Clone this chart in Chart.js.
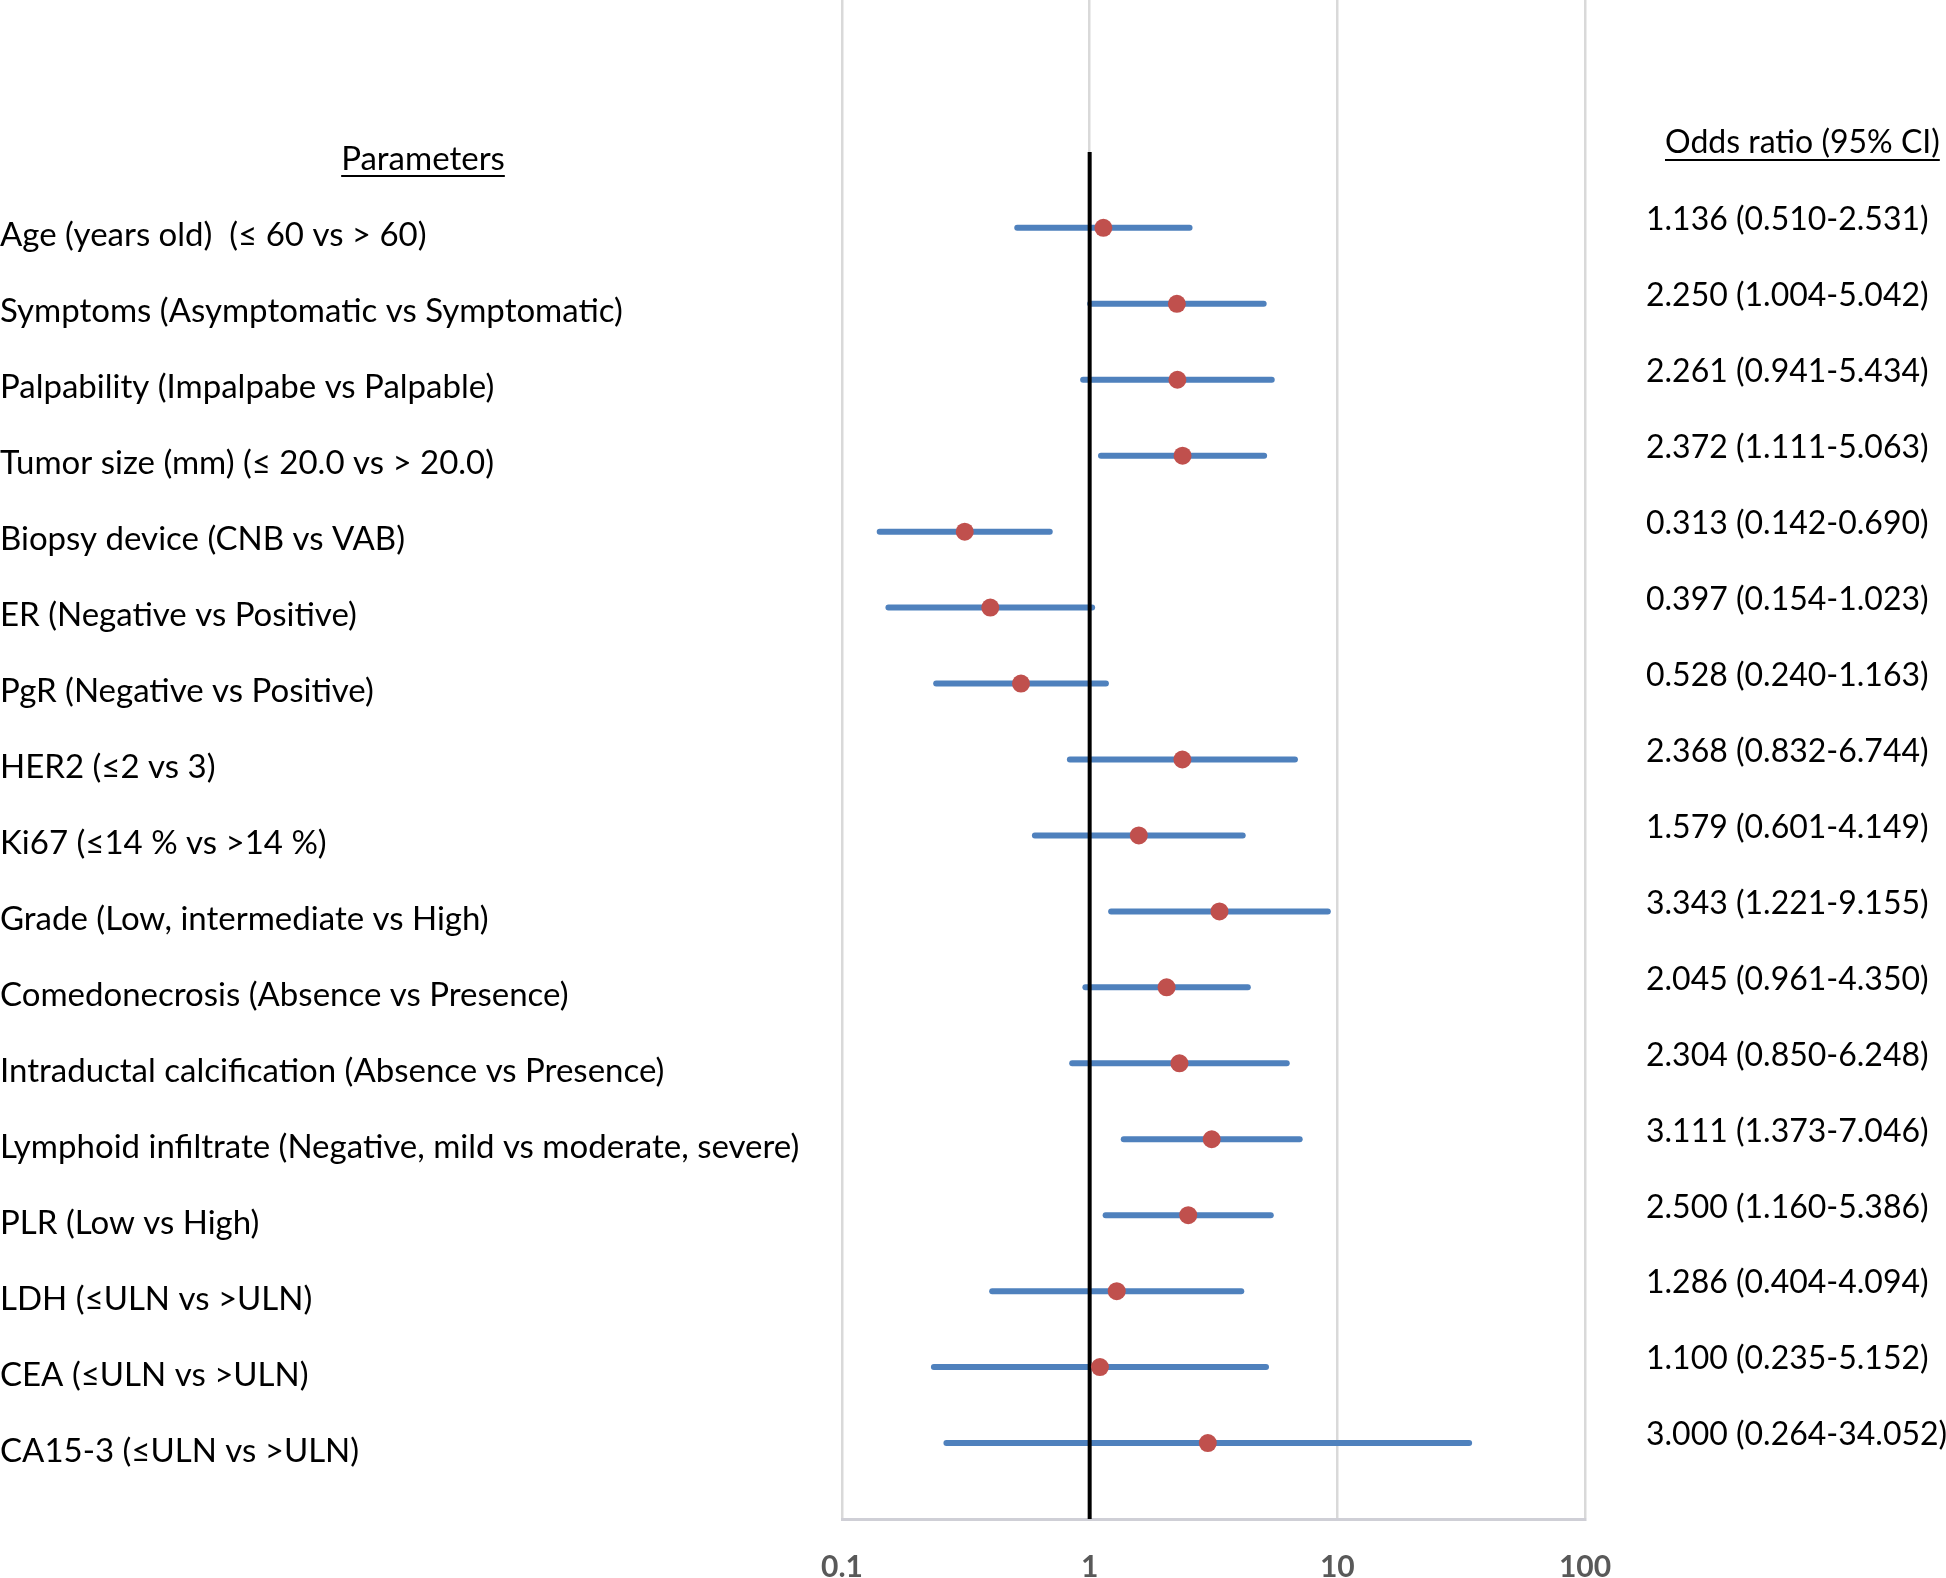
<!DOCTYPE html>
<html>
<head>
<meta charset="utf-8">
<script src="https://cdn.jsdelivr.net/npm/chart.js@4.4.1/dist/chart.umd.min.js"></script>
<style>
html,body{margin:0;padding:0;background:#fff}
#wrap{width:1946px;height:1578px}
</style>
</head>
<body>
<div id="wrap"><canvas id="forest" width="1946" height="1578"></canvas></div>
<script>

// parameters, top to bottom
const params = [
"Age (years old)  (\u2264 60 vs > 60)",
"Symptoms (Asymptomatic vs Symptomatic)",
"Palpability (Impalpabe vs Palpable)",
"Tumor size (mm) (\u2264 20.0 vs > 20.0)",
"Biopsy device (CNB vs VAB)",
"ER (Negative vs Positive)",
"PgR (Negative vs Positive)",
"HER2 (\u22642 vs 3)",
"Ki67 (\u226414 % vs >14 %)",
"Grade (Low, intermediate vs High)",
"Comedonecrosis (Absence vs Presence)",
"Intraductal calcification (Absence vs Presence)",
"Lymphoid infiltrate (Negative, mild vs moderate, severe)",
"PLR (Low vs High)",
"LDH (\u2264ULN vs >ULN)",
"CEA (\u2264ULN vs >ULN)",
"CA15-3 (\u2264ULN vs >ULN)"
]

const oddsRatio = [1.136,2.250,2.261,2.372,0.313,0.397,0.528,2.368,1.579,3.343,2.045,2.304,3.111,2.500,1.286,1.100,3.000]
const ciLow = [0.510,1.004,0.941,1.111,0.142,0.154,0.240,0.832,0.601,1.221,0.961,0.850,1.373,1.160,0.404,0.235,0.264]
const ciHigh = [2.531,5.042,5.434,5.063,0.690,1.023,1.163,6.744,4.149,9.155,4.350,6.248,7.046,5.386,4.094,5.152,34.052]

const xTicks = [0.1,1,10,100]

// row position on the y axis (top row = 17)
const rowY = params.map((p,i) => params.length - i)

const fmt = v => v.toFixed(3)

const FONT = "Lato"

/* text columns drawn next to the plot */
const sideText = {
id:"sideText",
afterDraw(chart){
const ctx = chart.ctx
const ys = chart.scales.y
ctx.save()
ctx.fillStyle = "#000"
ctx.textBaseline = "middle"
ctx.textAlign = "left"

ctx.font = "33px " + FONT
params.forEach((p,i)=>{
ctx.fillText(p, 0, ys.getPixelForValue(rowY[i]) + 8)
})

ctx.font = "32px " + FONT
oddsRatio.forEach((v,i)=>{
const t = fmt(v) + " (" + fmt(ciLow[i]) + "-" + fmt(ciHigh[i]) + ")"
ctx.fillText(t, 1646, ys.getPixelForValue(rowY[i]) - 8)
})

// headings, underlined
const heading = (txt, x, y, align) => {
ctx.textAlign = align
ctx.fillText(txt, x, y)
const w = ctx.measureText(txt).width
const x0 = align === "center" ? x - w/2 : x
ctx.fillRect(x0, y + 16, w, 2)
}
ctx.font = "33px " + FONT
heading("Parameters", 423, 159, "center")
ctx.font = "32px " + FONT
heading("Odds ratio (95% CI)", 1665, 143, "left")

ctx.restore()
}
}

function build(){

const ciSets = rowY.map((y,i)=>({
data:[{x:ciLow[i],y},{x:ciHigh[i],y}],
showLine:true,
borderColor:"#4f81bd",
borderWidth:6,
borderCapStyle:"round",
pointRadius:0,
order:3
}))

new Chart(document.getElementById("forest"),{
type:"scatter",
data:{
datasets:[
{
data:oddsRatio.map((v,i)=>({x:v,y:rowY[i]})),
pointRadius:9,
pointHoverRadius:9,
backgroundColor:"#c0504d",
borderWidth:0,
order:1
},
{
// reference line at OR = 1
data:[{x:1,y:0},{x:1,y:18}],
showLine:true,
borderColor:"#000",
borderWidth:4,
pointRadius:0,
order:2
},
...ciSets
]
},
options:{
responsive:false,
animation:false,
devicePixelRatio:1,
layout:{autoPadding:false,padding:{left:842,right:361,top:0,bottom:0}},
plugins:{
legend:{display:false},
tooltip:{enabled:false}
},
scales:{
x:{
type:"logarithmic",
min:0.1,
max:100,
afterBuildTicks(s){ s.ticks = xTicks.map(v=>({value:v})) },
afterFit(s){ s.height = 59 },
grid:{color:"#d9d9d9",lineWidth:2.5,drawTicks:false},
border:{color:"#cfcfd6",width:3},
ticks:{
color:"#595959",
padding:30,
font:{family:FONT,size:30,weight:"bold"},
callback:v => String(v)
}
},
y:{
display:false,
min:0,
max:20
}
}
},
plugins:[sideText]
})
}

document.fonts.load("33px " + FONT).then(build, build)

</script>
</body>
</html>
